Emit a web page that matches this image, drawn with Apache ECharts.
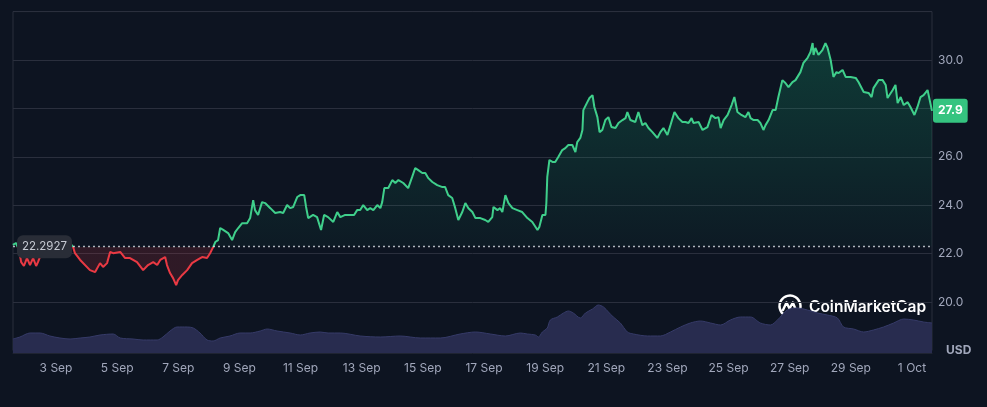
<!DOCTYPE html>
<html><head><meta charset="utf-8">
<script src="https://cdn.jsdelivr.net/npm/echarts@6/dist/echarts.min.js"></script>
<style>html,body{margin:0;padding:0;background:#0d1421;}#c{width:987px;height:407px;}</style>
</head><body><div id="c"></div>
<script>
// Day of month (September numbering; 31 = 1 Oct) for each price sample
const priceDays = [1.59,1.69,1.79,1.86,1.95,2.05,2.15,2.25,2.35,2.41,
2.54,2.74,2.97,3.2,3.33,3.46,3.56,3.62,3.79,4.11,
4.28,4.44,4.54,4.67,4.77,4.87,5.1,5.26,5.42,5.65,
5.85,6.01,6.18,6.31,6.41,6.57,6.63,6.73,6.83,6.93,
6.99,7.13,7.29,7.45,7.62,7.78,7.94,8.04,8.14,8.21,
8.3,8.37,8.47,8.53,8.63,8.76,8.86,8.96,9.09,9.25,
9.35,9.45,9.51,9.61,9.74,9.84,10.01,10.17,10.33,10.43,
10.56,10.66,10.76,10.89,10.99,11.12,11.18,11.25,11.41,11.54,
11.67,11.77,11.9,12.07,12.2,12.3,12.46,12.62,12.75,12.85,
12.95,13.05,13.18,13.28,13.38,13.51,13.61,13.67,13.74,13.87,
14.0,14.1,14.2,14.36,14.52,14.65,14.75,14.85,14.98,15.08,
15.18,15.31,15.47,15.64,15.73,15.83,15.96,16.06,16.16,16.29,
16.39,16.49,16.62,16.72,16.88,17.04,17.14,17.27,17.31,17.44,
17.53,17.6,17.7,17.8,17.93,18.09,18.25,18.42,18.58,18.75,
18.81,18.91,19.01,19.04,19.07,19.14,19.24,19.33,19.43,19.56,
19.66,19.76,19.89,19.99,20.05,20.15,20.22,20.25,20.38,20.45,
20.55,20.61,20.71,20.78,20.87,20.97,21.07,21.17,21.3,21.4,
21.53,21.63,21.69,21.79,21.95,22.05,22.18,22.28,22.38,22.51,
22.67,22.77,22.87,23.0,23.1,23.23,23.36,23.49,23.59,23.69,
23.79,23.85,24.02,24.15,24.31,24.44,24.57,24.67,24.74,24.84,
24.97,25.1,25.19,25.29,25.42,25.55,25.65,25.72,25.82,25.95,
26.04,26.14,26.21,26.31,26.44,26.54,26.63,26.76,26.86,26.96,
27.09,27.19,27.35,27.45,27.58,27.68,27.75,27.78,27.84,27.94,
28.07,28.17,28.24,28.34,28.43,28.53,28.6,28.73,28.83,28.99,
29.16,29.25,29.42,29.58,29.68,29.74,29.91,30.04,30.14,30.2,
30.37,30.46,30.53,30.63,30.73,30.86,30.95,31.08,31.18,31.28,
31.38,31.51,31.57,31.655];
const priceValues = [22.36,22.44,22.15,21.65,21.49,21.82,21.53,21.82,21.49,21.65,
22.07,22.15,22.23,22.36,22.48,22.44,22.27,22.02,21.74,21.32,
21.24,21.61,21.45,21.61,22.07,22.02,22.07,21.82,21.82,21.65,
21.32,21.53,21.65,21.53,21.74,21.86,21.53,21.2,20.99,20.7,
20.91,21.12,21.32,21.61,21.74,21.86,21.82,22.02,22.27,22.48,
22.56,23.06,22.98,23.06,22.85,22.56,22.89,23.06,23.26,23.26,
23.47,24.21,23.8,23.6,24.13,24.09,23.88,23.68,23.72,23.68,
24.01,23.88,23.93,24.34,24.42,24.42,23.93,23.47,23.6,23.51,
22.98,23.6,23.51,23.31,23.72,23.51,23.6,23.6,23.6,23.8,
23.8,24.01,23.8,23.88,23.8,24.01,23.88,24.13,24.71,24.71,
25.04,24.92,25.04,24.92,24.71,25.17,25.54,25.45,25.33,25.33,
25.12,24.96,24.83,24.75,24.75,24.42,24.3,23.88,23.39,23.72,
24.09,23.88,23.72,23.47,23.47,23.39,23.31,23.51,23.93,23.8,
23.88,23.72,24.42,24.09,23.88,23.8,23.72,23.47,23.31,22.98,
23.1,23.6,23.6,24.09,25.17,25.87,25.79,25.79,25.99,26.28,
26.36,26.49,26.49,26.2,26.61,26.78,27.11,27.93,28.26,28.43,
28.55,28.06,27.64,27.02,27.11,27.52,27.64,27.23,27.19,27.4,
27.52,27.6,27.85,27.52,27.44,27.85,27.31,27.4,27.19,27.02,
26.78,27.02,27.19,26.9,27.31,27.85,27.6,27.44,27.44,27.4,
27.6,27.4,27.44,27.11,27.23,27.73,27.6,27.64,27.19,27.52,
27.73,28.14,28.47,27.85,27.73,27.64,27.85,27.6,27.52,27.52,
27.4,27.11,27.31,27.52,27.93,27.93,28.47,29.17,29.05,28.88,
29.09,29.17,29.5,29.88,30.08,30.33,30.7,30.21,30.5,30.21,
30.41,30.7,30.5,30.0,29.3,29.5,29.46,29.59,29.3,29.3,
29.26,29.09,28.68,28.64,28.47,28.84,29.17,29.17,28.97,28.43,
28.76,28.97,28.22,28.47,28.14,28.26,28.06,27.73,28.06,28.47,
28.55,28.76,28.84,27.9];
// Volume (relative units)
const volumeDays = [1.59,1.82,2.15,2.48,2.8,3.13,3.46,3.79,4.11,4.44,4.87,5.1,5.52,5.85,6.31,6.5,6.73,6.96,7.29,7.49,
7.71,7.94,8.14,8.37,8.69,9.02,9.35,9.68,9.91,10.23,10.66,10.99,11.31,11.64,11.9,12.3,12.95,13.61,14.26,14.92,
15.57,16.22,16.72,17.21,17.7,18.19,18.42,18.68,18.78,18.91,19.07,19.17,19.4,19.6,19.76,19.92,20.15,20.32,20.55,20.74,
20.91,21.07,21.23,21.46,21.69,21.89,22.35,22.77,23.1,23.43,23.75,24.08,24.41,24.74,25.06,25.39,25.72,26.04,26.37,26.6,
26.92,27.25,27.58,27.91,28.23,28.56,28.76,29.09,29.42,29.74,30.07,30.4,30.73,31.05,31.38,31.655];
const volumeValues = [14,16,20,20,17,15,14,15,16,18,19,15,14,13,13,16,22,26,26,25,
20,13,12,15,17,20,20,22,24,22,20,18,20,21,20,20,17,16,17,15,
15,19,21,19,17,20,19,18,16,21,25,33,36,40,42,40,35,40,44,48,
46,41,36,30,21,19,17,17,21,26,30,32,30,28,33,36,36,30,28,33,
43,45,43,40,38,35,26,24,21,23,26,30,34,33,31,30];
const xTickDays = [3,5,7,9,11,13,15,17,19,21,23,25,27,29,31];
const xTickLabels = ['3 Sep','5 Sep','7 Sep','9 Sep','11 Sep','13 Sep','15 Sep','17 Sep','19 Sep','21 Sep','23 Sep','25 Sep','27 Sep','29 Sep','1 Oct'];
const baselinePrice = 22.2927;
const lastPrice = priceValues[priceValues.length - 1];

const GREEN = '#3fcf8b', RED = '#ea3943';
const X_MIN = 1.593, X_MAX = 31.655;
const LABEL_COLOR = '#a1a7bb', FONT = 'Inter, "Noto Sans", sans-serif';

const chart = echarts.init(document.getElementById('c'), null, {renderer: 'canvas'});
const priceData = priceDays.map((d, i) => [d, priceValues[i]]);
const volData = volumeDays.map((d, i) => [d, volumeValues[i]]);

const option = {
  backgroundColor: '#0d1421',
  animation: false,
  grid: [
    {left: 13, right: 55, top: 11.6, bottom: 56.5, show: true, borderColor: '#2a2f3d', borderWidth: 1},
    {left: 13, right: 55, top: 273, bottom: 54}
  ],
  xAxis: [
    {type: 'value', gridIndex: 0, min: X_MIN, max: X_MAX, show: false},
    {type: 'value', gridIndex: 1, min: X_MIN, max: X_MAX,
      axisLine: {show: true, lineStyle: {color: '#1f2432'}}, axisTick: {show: false}, splitLine: {show: false},
      axisLabel: {customValues: xTickDays, margin: 9, color: LABEL_COLOR, fontSize: 12, fontFamily: FONT,
        formatter: v => { const i = xTickDays.indexOf(v); return i >= 0 ? xTickLabels[i] : ''; }}}
  ],
  yAxis: [
    {type: 'value', gridIndex: 0, position: 'right', min: 18, max: 32, interval: 2,
      axisLine: {show: false}, axisTick: {show: false},
      splitLine: {show: true, lineStyle: {color: '#2a2f3d', width: 1}},
      axisLabel: {margin: 6, color: LABEL_COLOR, fontSize: 12, fontFamily: FONT,
        formatter: v => (v === 18 || v === 32) ? '' : v.toFixed(1)}},
    {type: 'value', gridIndex: 1, min: 0, max: 80, show: false}
  ],
  series: [
    {type: 'line', xAxisIndex: 1, yAxisIndex: 1, data: volData, showSymbol: false, smooth: 0.3,
      lineStyle: {color: '#363b68', width: 1}, areaStyle: {color: '#282c4f', opacity: 1}, z: 1, silent: true},
    {type: 'line', xAxisIndex: 0, yAxisIndex: 0, data: priceData, showSymbol: false, z: 3,
      lineStyle: {color: GREEN, width: 2}, areaStyle: {origin: baselinePrice, color: 'rgba(22,199,132,0.15)'},
      markLine: {silent: true, symbol: ['none', 'none'], animation: false,
        data: [
          {yAxis: baselinePrice,
            lineStyle: {type: [2, 3], color: 'rgba(230,233,240,0.75)', width: 1.3},
            label: {show: true, position: 'insideStart', distance: [4, 0], formatter: String(baselinePrice),
              backgroundColor: '#292d37', color: '#c5c9d2', padding: [6, 5, 5, 5], borderRadius: 6,
              fontSize: 11.5, fontFamily: FONT, verticalAlign: 'middle'}},
          {yAxis: lastPrice,
            lineStyle: {color: 'rgba(0,0,0,0)', width: 1, type: 'solid'},
            label: {show: true, position: 'end', distance: 1, formatter: lastPrice.toFixed(1),
              backgroundColor: '#35c480', color: '#ffffff', fontWeight: 'bold', padding: [6, 5, 6, 5],
              borderRadius: 3, fontSize: 12, fontFamily: FONT}}
        ]}}
  ],
  graphic: [
    {type: 'group', left: 777, top: 293, silent: true, children: [
      {type: 'arc', shape: {cx: 12, cy: 12, r: 10.5, startAngle: Math.PI * 0.42, endAngle: Math.PI * 2.22},
        style: {stroke: '#ffffff', lineWidth: 2.4, fill: null}},
      {type: 'polyline', shape: {points: [[5, 16], [8.5, 8.5], [11.5, 14.5], [14.8, 8.5], [17.5, 15], [21, 17]]},
        style: {stroke: '#ffffff', lineWidth: 2.4, fill: null, lineJoin: 'round', lineCap: 'round'}},
      {type: 'text', x: 31, y: 13, style: {text: 'CoinMarketCap', fill: '#ffffff', font: '600 15.5px ' + FONT, verticalAlign: 'middle'}}
    ]},
    {type: 'text', left: 946, top: 344, silent: true,
      style: {text: 'USD', fill: LABEL_COLOR, font: 'bold 12px ' + FONT}}
  ]
};
chart.setOption(option);

// Colour split at the baseline, computed through the library's own y scale
const by = chart.convertToPixel({yAxisIndex: 0}, baselinePrice);
const y0 = chart.convertToPixel({yAxisIndex: 0}, 31);
const y1 = chart.convertToPixel({yAxisIndex: 0}, 20);
const t = (by - y0) / (y1 - y0);
const G = echarts.graphic.LinearGradient;
chart.setOption({series: [{}, {
  lineStyle: {color: new G(0, y0, 0, y1, [
    {offset: 0, color: GREEN}, {offset: t, color: GREEN}, {offset: t, color: RED}, {offset: 1, color: RED}], true)},
  areaStyle: {origin: baselinePrice, color: new G(0, y0, 0, y1, [
    {offset: 0, color: 'rgba(22,199,132,0.32)'}, {offset: t, color: 'rgba(22,199,132,0.05)'},
    {offset: t, color: 'rgba(234,57,67,0.22)'}, {offset: 1, color: 'rgba(234,57,67,0.22)'}], true)}
}]});
</script></body></html>
